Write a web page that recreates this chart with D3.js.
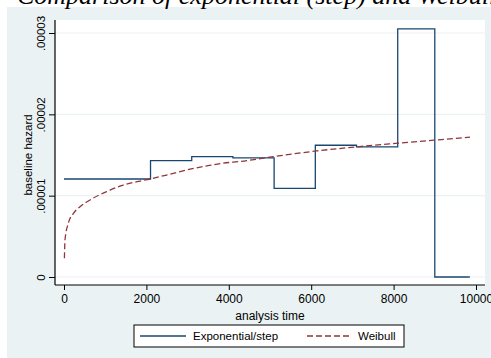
<!DOCTYPE html>
<html><head><meta charset="utf-8">
<script src="https://cdn.jsdelivr.net/npm/d3@7"></script>
<style>html,body{margin:0;padding:0;background:#fff;}svg{display:block;}</style>
</head><body>
<svg id="c" width="491" height="358"></svg>
<script>
// Data
const stepBreaks = [0, 2100, 3100, 4100, 5100, 6100, 7100, 8100, 9000, 9850];
const stepHazard = [1.205e-5, 1.43e-5, 1.48e-5, 1.465e-5, 1.09e-5, 1.62e-5, 1.60e-5, 3.05e-5, 0];
const weibullTime = [10, 24, 104, 226, 388, 631, 1036, 1439, 1845, 2087, 2653, 3058, 3463, 3867, 4272, 5080, 6133, 7104, 8114, 9046, 9854];
const weibullHazard = [0.23e-5, 0.455e-5, 0.66e-5, 0.78e-5, 0.865e-5, 0.947e-5, 1.05e-5, 1.13e-5, 1.18e-5, 1.205e-5, 1.275e-5, 1.325e-5, 1.365e-5, 1.40e-5, 1.42e-5, 1.48e-5, 1.55e-5, 1.60e-5, 1.645e-5, 1.685e-5, 1.72e-5];
const xTicks = [0, 2000, 4000, 6000, 8000, 10000];
const yTicks = [0, 0.00001, 0.00002, 0.00003];
const yTickLabels = ["0", ".00001", ".00002", ".00003"];
const seriesNames = ["Exponential/step", "Weibull"];
const titleText = "Comparison of exponential (step) and Weibull";

const svg = d3.select("#c");
const font = "'Liberation Sans', Arial, sans-serif";
const bg = "#eaf2f3";
const navy = "#1a476f", maroon = "#90353b";

// outer graph region
svg.append("rect").attr("x", 7).attr("y", 7).attr("width", 484).attr("height", 351).attr("fill", bg);

const plot = {l: 55, r: 485, t: 20, b: 285};
svg.append("rect").attr("x", plot.l).attr("y", plot.t).attr("width", plot.r - plot.l).attr("height", plot.b - plot.t).attr("fill", "#fff");

const x = d3.scaleLinear().domain([0, 10000]).range([64, 476]);
const y = d3.scaleLinear().domain([0, 0.00003]).range([277, 33]);

// grid
svg.append("g").selectAll("line").data(yTicks).join("line")
  .attr("x1", plot.l).attr("x2", plot.r)
  .attr("y1", d => y(d)).attr("y2", d => y(d))
  .attr("stroke", bg).attr("stroke-width", 1.2);

// step line
const stepPts = [];
stepHazard.forEach((h, i) => { stepPts.push([stepBreaks[i], h]); stepPts.push([stepBreaks[i + 1], h]); });
const line = d3.line().x(d => x(d[0])).y(d => y(d[1]));
svg.append("path").datum(stepPts).attr("d", line)
  .attr("fill", "none").attr("stroke", navy).attr("stroke-width", 1.3);

// weibull
const wPts = weibullTime.map((t, i) => [t, weibullHazard[i]]);
svg.append("path").datum(wPts).attr("d", d3.line().x(d => x(d[0])).y(d => y(d[1])).curve(d3.curveMonotoneX))
  .attr("fill", "none").attr("stroke", maroon).attr("stroke-width", 1.3).attr("stroke-dasharray", "6,3");

// axes
const yAxis = svg.append("g").attr("transform", `translate(${plot.l},0)`)
  .call(d3.axisLeft(y).tickValues(yTicks).tickSize(6).tickFormat((d, i) => yTickLabels[i]));
yAxis.select(".domain").attr("d", `M0,${plot.t}V${plot.b}`).attr("stroke", "#000").attr("stroke-width", 1.2);
yAxis.selectAll(".tick line").attr("stroke", "#000");
yAxis.selectAll(".tick text")
  .attr("font-family", font).attr("font-size", 11.5).attr("fill", "#000")
  .attr("text-anchor", "middle").attr("x", 0).attr("dy", 0)
  .attr("transform", "translate(-10,0) rotate(-90)");

const xAxis = svg.append("g").attr("transform", `translate(0,${plot.b})`)
  .call(d3.axisBottom(x).tickValues(xTicks).tickSize(5).tickFormat(d3.format("d")));
xAxis.select(".domain").attr("d", `M${plot.l},0H${plot.r}`).attr("stroke", "#000").attr("stroke-width", 1.2);
xAxis.selectAll(".tick line").attr("stroke", "#000");
xAxis.selectAll(".tick text").attr("font-family", font).attr("font-size", 12).attr("fill", "#000").attr("y", 9);

// axis titles
svg.append("text").attr("transform", "translate(32,155) rotate(-90)")
  .attr("text-anchor", "middle").attr("font-family", font).attr("font-size", 11.5).text("baseline hazard");
svg.append("text").attr("x", 270).attr("y", 320)
  .attr("text-anchor", "middle").attr("font-family", font).attr("font-size", 12).text("analysis time");

// legend
svg.append("rect").attr("x", 134).attr("y", 325).attr("width", 270).attr("height", 22)
  .attr("fill", "#fff").attr("stroke", "#000").attr("stroke-width", 1);
svg.append("line").attr("x1", 140).attr("x2", 186).attr("y1", 336).attr("y2", 336)
  .attr("stroke", navy).attr("stroke-width", 1.3);
svg.append("text").attr("x", 193).attr("y", 340).attr("font-family", font).attr("font-size", 11.5).text(seriesNames[0]);
svg.append("line").attr("x1", 307).attr("x2", 352).attr("y1", 336).attr("y2", 336)
  .attr("stroke", maroon).attr("stroke-width", 1.3).attr("stroke-dasharray", "6,3");
svg.append("text").attr("x", 358).attr("y", 340).attr("font-family", font).attr("font-size", 11.5).text(seriesNames[1]);

// title (cropped at top)
svg.append("text").attr("x", 17).attr("y", 4).attr("font-family", "'Liberation Serif', 'Times New Roman', serif")
  .attr("font-style", "italic").attr("font-size", 26).text(titleText);
</script>
</body></html>
